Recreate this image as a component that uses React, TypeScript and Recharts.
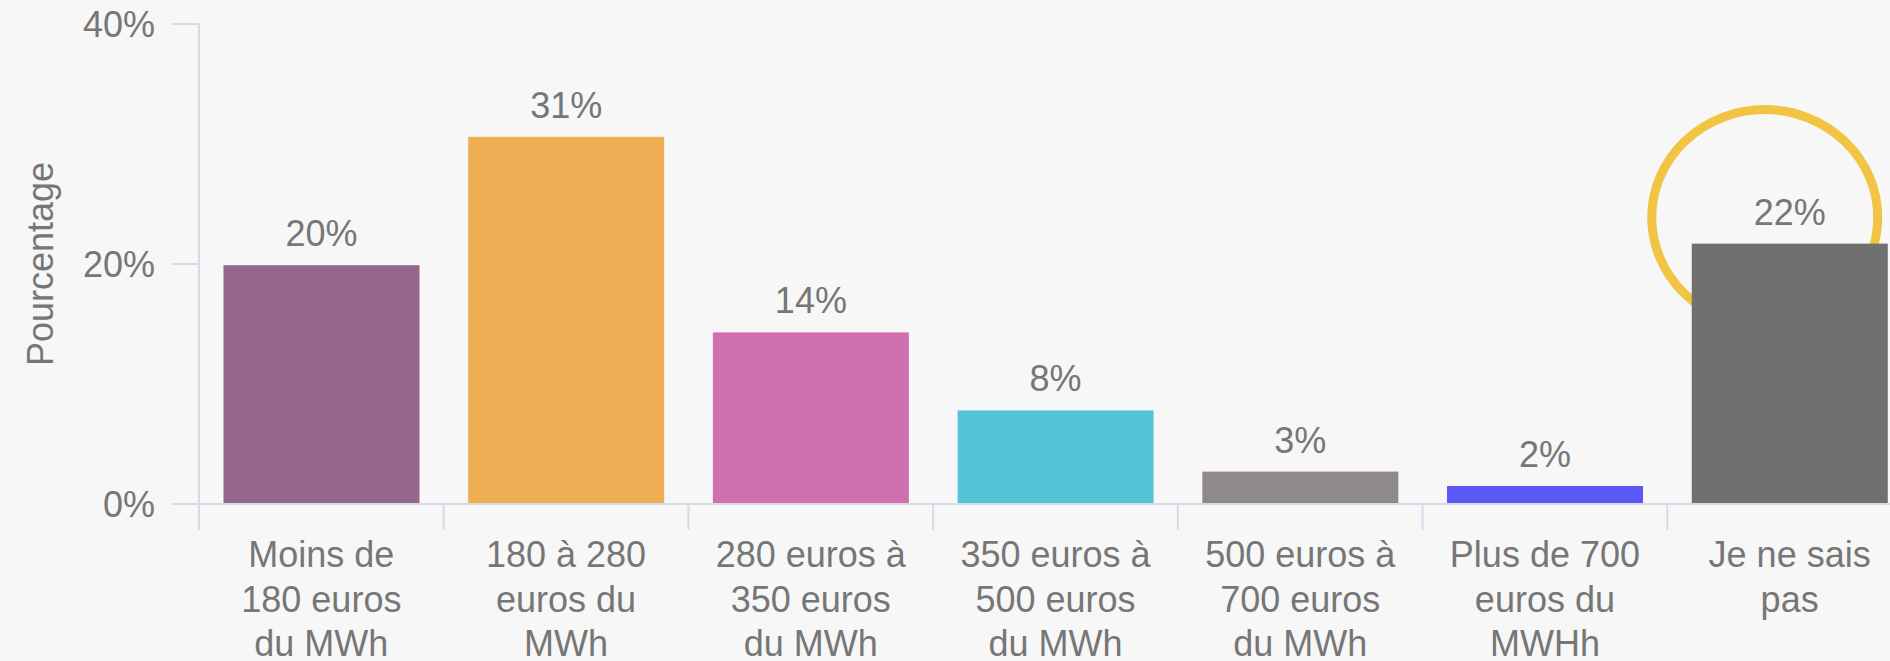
import React from "react";
import { BarChart, Bar, XAxis, YAxis, LabelList } from "recharts";

// categories, "\n" marks the line breaks of the axis labels
const CATEGORIES = [
  "Moins de\n180 euros\ndu MWh",
  "180 à 280\neuros du\nMWh",
  "280 euros à\n350 euros\ndu MWh",
  "350 euros à\n500 euros\ndu MWh",
  "500 euros à\n700 euros\ndu MWh",
  "Plus de 700\neuros du\nMWHh",
  "Je ne sais\npas",
];
const VALUES = [19.9, 30.6, 14.3, 7.8, 2.7, 1.5, 21.7];
const COLORS = ["#95678b", "#efae54", "#d070ae", "#54c3d6", "#8f8a89", "#5a57f5", "#707071"];
const Y_TICKS = [0, 20, 40];
const HIGHLIGHT = "Je ne sais\npas";

const TEXT = "#767676";
const AXIS = "#d5dbe8";
const FONT = "'Liberation Sans', Arial, sans-serif";

const data = CATEGORIES.map((name, i) => ({ name, value: VALUES[i] }));

const CategoryTick = (props: any) => {
  const { x, y, payload, width, visibleTicksCount } = props;
  const lines = String(payload.value).split("\n");
  const half = payload.offset || width / visibleTicksCount / 2;
  return (
    <g>
      <line x1={x - half} x2={x - half} y1={y} y2={y + 26} stroke={AXIS} strokeWidth={2} />
      <text x={x} y={y + 63} textAnchor="middle" fill={TEXT} fontSize={36} fontFamily={FONT}>
        {lines.map((l, i) => (
          <tspan key={i} x={x} dy={i === 0 ? 0 : 44.5}>
            {l}
          </tspan>
        ))}
      </text>
    </g>
  );
};

const BarShape = (p: any) => {
  const { x, y, width, height, index } = p;
  return (
    <g>
      {CATEGORIES[index] === HIGHLIGHT && (
        <ellipse
          cx={x + width / 2 - 25}
          cy={y - 26}
          rx={113}
          ry={108}
          fill="none"
          stroke="#f1c443"
          strokeWidth={9}
        />
      )}
      <rect x={x} y={y} width={width} height={height} fill={COLORS[index]} />
    </g>
  );
};

export default function App() {
  return (
    <div
      style={{
        position: "fixed",
        left: 0,
        top: 0,
        width: 1890,
        height: 661,
        overflow: "hidden",
        background: "#f7f7f7",
      }}
    >
      <BarChart
        width={1912}
        height={661}
        data={data}
        margin={{ top: 24, right: 0, bottom: 0, left: 0 }}
        barCategoryGap="10%"
      >
        <XAxis
          dataKey="name"
          height={157}
          interval={0}
          tickLine={false}
          tickSize={0}
          tickMargin={0}
          axisLine={{ stroke: AXIS, strokeWidth: 2 }}
          tick={<CategoryTick />}
        />
        <YAxis
          width={199}
          domain={[0, 40]}
          ticks={Y_TICKS}
          tickFormatter={(v: number) => `${v}%`}
          tickSize={27}
          tickMargin={17}
          tickLine={{ stroke: AXIS, strokeWidth: 2 }}
          axisLine={{ stroke: AXIS, strokeWidth: 2 }}
          tick={{ fill: TEXT, fontSize: 36, fontFamily: FONT }}
          label={{
            content: ({ viewBox }: any) => {
              const cy = viewBox.y + viewBox.height / 2;
              return (
                <text
                  x={40}
                  y={cy}
                  transform={`rotate(-90, 40, ${cy})`}
                  textAnchor="middle"
                  dominantBaseline="central"
                  fill={TEXT}
                  fontSize={36}
                  fontFamily={FONT}
                >
                  Pourcentage
                </text>
              );
            },
          }}
        />
        <Bar dataKey="value" shape={<BarShape />} isAnimationActive={false}>
          <LabelList
            dataKey="value"
            position="top"
            offset={19}
            formatter={(v: any) => `${Math.round(Number(v))}%`}
            fill={TEXT}
            fontSize={36}
            fontFamily={FONT}
          />
        </Bar>
      </BarChart>
    </div>
  );
}
